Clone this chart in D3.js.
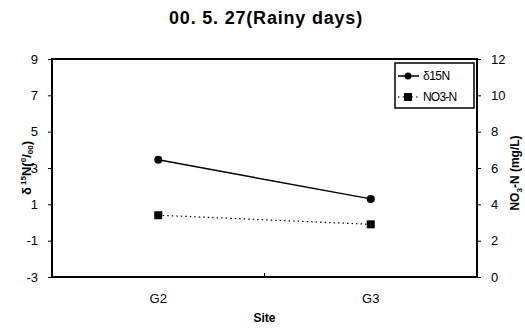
<!DOCTYPE html>
<html>
<head>
<meta charset="utf-8">
<script src="https://cdn.jsdelivr.net/npm/d3@7"></script>
<style>
  body { margin: 0; background: #fff; }
  text { font-family: "Liberation Sans", Arial, sans-serif; }
</style>
</head>
<body>
<script>
const sites = ['G2', 'G3']
const delta15N = [3.45, 1.3]
const no3N = [3.4, 2.9]
const leftTicks = [-3, -1, 1, 3, 5, 7, 9]
const rightTicks = [0, 2, 4, 6, 8, 10, 12]

const width = 525
const height = 328
const margin = { top: 59, right: 48, bottom: 51, left: 52 }
const innerW = width - margin.left - margin.right
const innerH = height - margin.top - margin.bottom

const svg = d3.select('body')
  .append('svg')
  .attr('width', width)
  .attr('height', height)

svg.append('text')
  .attr('x', 266)
  .attr('y', 24)
  .attr('text-anchor', 'middle')
  .attr('font-size', 18)
  .attr('font-weight', 'bold')
  .attr('letter-spacing', 0.8)
  .text('00. 5. 27(Rainy days)')

const g = svg.append('g')
  .attr('transform', `translate(${margin.left},${margin.top})`)

const x = d3.scaleBand().domain(sites).range([0, innerW])
const yL = d3.scaleLinear().domain([-3, 9]).range([innerH, 0])
const yR = d3.scaleLinear().domain([0, 12]).range([innerH, 0])

// plot frame
g.append('rect')
  .attr('width', innerW)
  .attr('height', innerH)
  .attr('fill', 'none')
  .attr('stroke', '#000')
  .attr('stroke-width', 2)

const plain = d => String(d)

const leftAxis = g.append('g')
  .call(d3.axisLeft(yL).tickValues(leftTicks).tickFormat(plain).tickSize(4).tickPadding(10))
leftAxis.select('.domain').remove()

const rightAxis = g.append('g')
  .attr('transform', `translate(${innerW},0)`)
  .call(d3.axisRight(yR).tickValues(rightTicks).tickFormat(plain).tickSize(4).tickPadding(10))
rightAxis.select('.domain').remove()

const bottomAxis = g.append('g')
  .attr('transform', `translate(0,${innerH})`)
  .call(d3.axisBottom(x).tickSize(0).tickPadding(17))
bottomAxis.select('.domain').remove()
// tick mark between categories
bottomAxis.append('line')
  .attr('x1', innerW / 2).attr('x2', innerW / 2)
  .attr('y1', -4).attr('y2', 0)
  .attr('stroke', '#000')

g.selectAll('.tick text')
  .attr('font-size', 13)
  .attr('fill', '#000')
g.selectAll('.tick line').attr('stroke', '#000')

// axis titles
svg.append('text')
  .attr('x', margin.left + innerW / 2)
  .attr('y', 322)
  .attr('text-anchor', 'middle')
  .attr('font-size', 12)
  .attr('font-weight', 'bold')
  .text('Site')

const lt = svg.append('text')
  .attr('transform', `translate(31,${margin.top + innerH / 2}) rotate(-90)`)
  .attr('text-anchor', 'middle')
  .attr('font-size', 13)
  .attr('font-weight', 'bold')
lt.append('tspan').text('δ')
lt.append('tspan').attr('font-size', 8).attr('dy', -5).text(' 15')
lt.append('tspan').attr('dy', 5).text('N(')
lt.append('tspan').attr('font-size', 8).attr('dy', -5).text('0')
lt.append('tspan').attr('dy', 5).text('/')
lt.append('tspan').attr('font-size', 8).attr('dy', 2).text('00')
lt.append('tspan').attr('dy', -2).text(')')

const rt = svg.append('text')
  .attr('transform', `translate(519,${margin.top + innerH / 2 + 5}) rotate(-90)`)
  .attr('text-anchor', 'middle')
  .attr('font-size', 12)
  .attr('font-weight', 'bold')
rt.append('tspan').text('NO')
rt.append('tspan').attr('font-size', 8).attr('dy', 3).text('3')
rt.append('tspan').attr('dy', -3).text('-N (mg/L)')

const cx = d => x(d) + x.bandwidth() / 2

// delta 15N series
const line1 = d3.line()
  .x((d, i) => cx(sites[i]))
  .y(d => yL(d))
g.append('path')
  .datum(delta15N)
  .attr('d', line1)
  .attr('fill', 'none')
  .attr('stroke', '#000')
  .attr('stroke-width', 1.5)
g.selectAll('.dot')
  .data(delta15N)
  .enter()
  .append('circle')
  .attr('cx', (d, i) => cx(sites[i]))
  .attr('cy', d => yL(d))
  .attr('r', 4)
  .attr('fill', '#000')

// NO3-N series
const line2 = d3.line()
  .x((d, i) => cx(sites[i]))
  .y(d => yR(d))
g.append('path')
  .datum(no3N)
  .attr('d', line2)
  .attr('fill', 'none')
  .attr('stroke', '#000')
  .attr('stroke-width', 1.2)
  .attr('stroke-dasharray', '1.5,3')
g.selectAll('.sq')
  .data(no3N)
  .enter()
  .append('rect')
  .attr('x', (d, i) => cx(sites[i]) - 4)
  .attr('y', d => yR(d) - 4)
  .attr('width', 8)
  .attr('height', 8)
  .attr('fill', '#000')

// legend
const lg = g.append('g').attr('transform', `translate(${innerW - 82},4)`)
lg.append('rect')
  .attr('width', 79)
  .attr('height', 45)
  .attr('fill', '#fff')
  .attr('stroke', '#000')
  .attr('stroke-width', 1.5)
lg.append('line')
  .attr('x1', 3).attr('x2', 24).attr('y1', 13).attr('y2', 13)
  .attr('stroke', '#000').attr('stroke-width', 1.5)
lg.append('circle').attr('cx', 13).attr('cy', 13).attr('r', 3.5).attr('fill', '#000')
lg.append('text').attr('x', 28).attr('y', 17).attr('font-size', 12).attr('letter-spacing', -0.5).text('δ15N')
lg.append('line')
  .attr('x1', 3).attr('x2', 24).attr('y1', 34).attr('y2', 34)
  .attr('stroke', '#000').attr('stroke-width', 1.2).attr('stroke-dasharray', '1.5,3')
lg.append('rect').attr('x', 9).attr('y', 30).attr('width', 8).attr('height', 8).attr('fill', '#000')
lg.append('text').attr('x', 28).attr('y', 38).attr('font-size', 12).attr('letter-spacing', -0.8).text('NO3-N')
</script>
</body>
</html>
